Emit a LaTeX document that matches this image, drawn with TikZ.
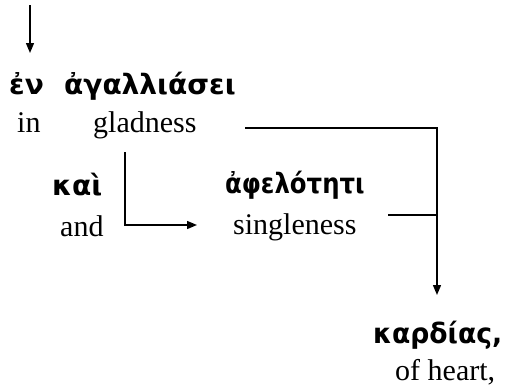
\documentclass[tikz,border=0pt]{standalone}
\usepackage{fontspec}
\setmainfont{Liberation Serif}
\newfontfamily\grk{DejaVu Sans}
\usetikzlibrary{arrows.meta}
\tikzset{
  eng/.style={inner sep=0pt, anchor=base west, font=\fontsize{30}{34}\selectfont},
  gr/.style={inner sep=0pt, anchor=base west, font=\grk\bfseries\fontsize{28}{32}\selectfont},
  conn/.style={line width=1.4pt, -{Triangle[length=10pt,width=8pt]}},
  plain/.style={line width=1.4pt}
}
\begin{document}
\begin{tikzpicture}[x=1pt,y=-1pt]
\useasboundingbox (0,0) rectangle (506,389);
\node[gr] (en) at (9,94) {ἐν};
\node[gr] (agal) at (64,94) {ἀγαλλιάσει};
\node[eng] (in) at (17,132) {in};
\node[eng] (glad) at (93,132) {gladness};
\node[gr] (kai) at (52,195) {καὶ};
\node[eng] (and) at (60,236) {and};
\node[gr] (afel) at (225,193) {\scalebox{0.87}[1]{ἀφελότητι}};
\node[eng] (sing) at (233,234) {singleness};
\node[gr] (kard) at (373,343) {\scalebox{0.95}[1]{καρδίας,}};
\node[eng] (heart) at (395,380) {of heart,};
\coordinate (top) at (30,5);
\coordinate (tipen) at (30,53);
\coordinate (gR) at (245,128);
\coordinate (corner) at (437,128);
\coordinate (tipk) at (437,295);
\coordinate (gD) at (125,152);
\coordinate (gC) at (125,225);
\coordinate (tips) at (197,225);
\coordinate (sR) at (388,215);
\coordinate (join) at (437,215);
\draw[conn] (top) -- (tipen);
\draw[conn] (gR) -- (corner) -- (tipk);
\draw[conn] (gD) -- (gC) -- (tips);
\draw[plain] (sR) -- (join);
\end{tikzpicture}
\end{document}
